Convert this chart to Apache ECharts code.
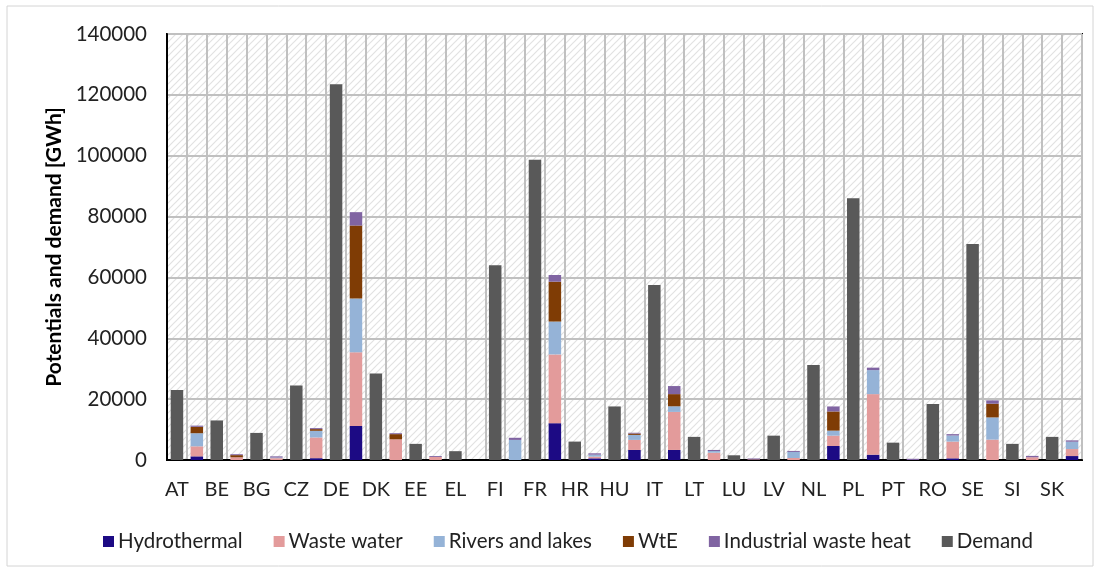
<!DOCTYPE html>
<html>
<head>
<meta charset="utf-8">
<script src="https://cdn.jsdelivr.net/npm/echarts@6/dist/echarts.min.js"></script>
<style>html,body{margin:0;padding:0;background:#fff}#c{width:1101px;height:574px}</style>
</head>
<body>
<div id="c"></div>
<script>
const countries = ['AT','BE','BG','CZ','DE','DK','EE','EL','FI','FR','HR','HU','IT','LT','LU','LV','NL','PL','PT','RO','SE','SI','SK'];
const demand = [23000,13000,8900,24500,123500,28400,5300,2900,64000,98700,6050,17600,57500,7600,1550,8000,31200,86000,5700,18400,71000,5300,7600];
const hydrothermal = [1200,0,0,600,11200,0,0,0,0,12100,550,3300,3300,0,0,0,4600,1750,0,550,0,0,1300];
const wasteWater = [3300,900,600,6800,24200,6800,1000,0,0,22600,550,3300,12500,2400,200,650,3400,19900,0,5500,6700,900,2300];
const riversLakes = [4300,0,200,2200,17650,0,0,0,6600,10800,650,1650,1850,550,0,2000,1650,7900,0,2000,7300,0,2400];
const wte = [2100,700,0,550,24000,1700,0,0,0,13100,0,450,4000,0,0,0,6300,0,0,0,4500,0,0];
const industrial = [400,300,400,330,4400,300,300,0,700,2200,450,250,2650,350,300,330,1650,800,400,450,1100,450,450];
const yTicks = {min:0, max:140000, interval:20000};

// two slots per country: demand slot (labelled), potentials slot (unlabelled)
const slots = [];
countries.forEach(c => { slots.push(c); slots.push(''); });
const onDemandSlot = arr => { const o=[]; arr.forEach(v=>{o.push(v);o.push('-');}); return o; };
const onPotSlot = arr => { const o=[]; arr.forEach(v=>{o.push('-');o.push(v);}); return o; };

// hatch pattern
const pc = document.createElement('canvas');
pc.width = 7; pc.height = 7;
const px = pc.getContext('2d');
px.fillStyle = '#ffffff'; px.fillRect(0,0,7,7);
px.strokeStyle = '#e2e2e2'; px.lineWidth = 1.2;
px.beginPath();
px.moveTo(-1,8); px.lineTo(8,-1);
px.moveTo(-1,1); px.lineTo(1,-1);
px.moveTo(6,8); px.lineTo(8,6);
px.stroke();

const FONT = 'Lato, "Open Sans", sans-serif';
const chart = echarts.init(document.getElementById('c'), null, {renderer:'canvas'});
const mk = (name, data, color) => ({
  name, type:'bar', stack:'all', data, barWidth:12.5,
  itemStyle:{color}, emphasis:{disabled:true}
});
chart.setOption({
  animation:false,
  backgroundColor:'#fff',
  graphic:[{type:'rect', shape:{x:7,y:6,width:1086,height:560}, style:{fill:'none', stroke:'#d4d4d4', lineWidth:1}, silent:true, z:-10}],
  grid:{left:167, right:19, top:34, bottom:114, show:true, borderColor:'#000', borderWidth:2,
        backgroundColor:{image:pc, repeat:'repeat'}},
  legend:{
    left:98, top:526, itemWidth:11, itemHeight:11, itemGap:31, icon:'rect',
    textStyle:{fontFamily:FONT, fontSize:20.5, color:'#222', padding:[0,0,0,-1]},
    data:['Hydrothermal','Waste water','Rivers and lakes','WtE','Industrial waste heat','Demand']
  },
  xAxis:{
    type:'category', data:slots,
    axisLine:{lineStyle:{color:'#000', width:2}},
    axisTick:{show:false},
    axisLabel:{interval:0, margin:20, fontFamily:FONT, fontSize:20, color:'#222', align:'center'},
    splitLine:{show:true, interval:0, lineStyle:{color:'#c0c0c0', width:2}}
  },
  yAxis:{
    type:'value', min:yTicks.min, max:yTicks.max, interval:yTicks.interval,
    name:'Potentials and demand [GWh]', nameLocation:'middle', nameGap:97,
    nameTextStyle:{fontFamily:FONT, fontSize:21, fontWeight:'bold', color:'#000'},
    axisLine:{show:true, lineStyle:{color:'#000', width:2}},
    axisTick:{show:false},
    axisLabel:{margin:20, fontFamily:FONT, fontSize:20.5, color:'#222', formatter:v=>String(v)},
    splitLine:{lineStyle:{color:'#c0c0c0', width:2}}
  },
  series:[
    mk('Hydrothermal', onPotSlot(hydrothermal), '#1c0a84'),
    mk('Waste water', onPotSlot(wasteWater), '#e39b9b'),
    mk('Rivers and lakes', onPotSlot(riversLakes), '#95b3d7'),
    mk('WtE', onPotSlot(wte), '#7f3c05'),
    mk('Industrial waste heat', onPotSlot(industrial), '#8064a2'),
    mk('Demand', onDemandSlot(demand), '#595959')
  ]
});
</script>
</body>
</html>
